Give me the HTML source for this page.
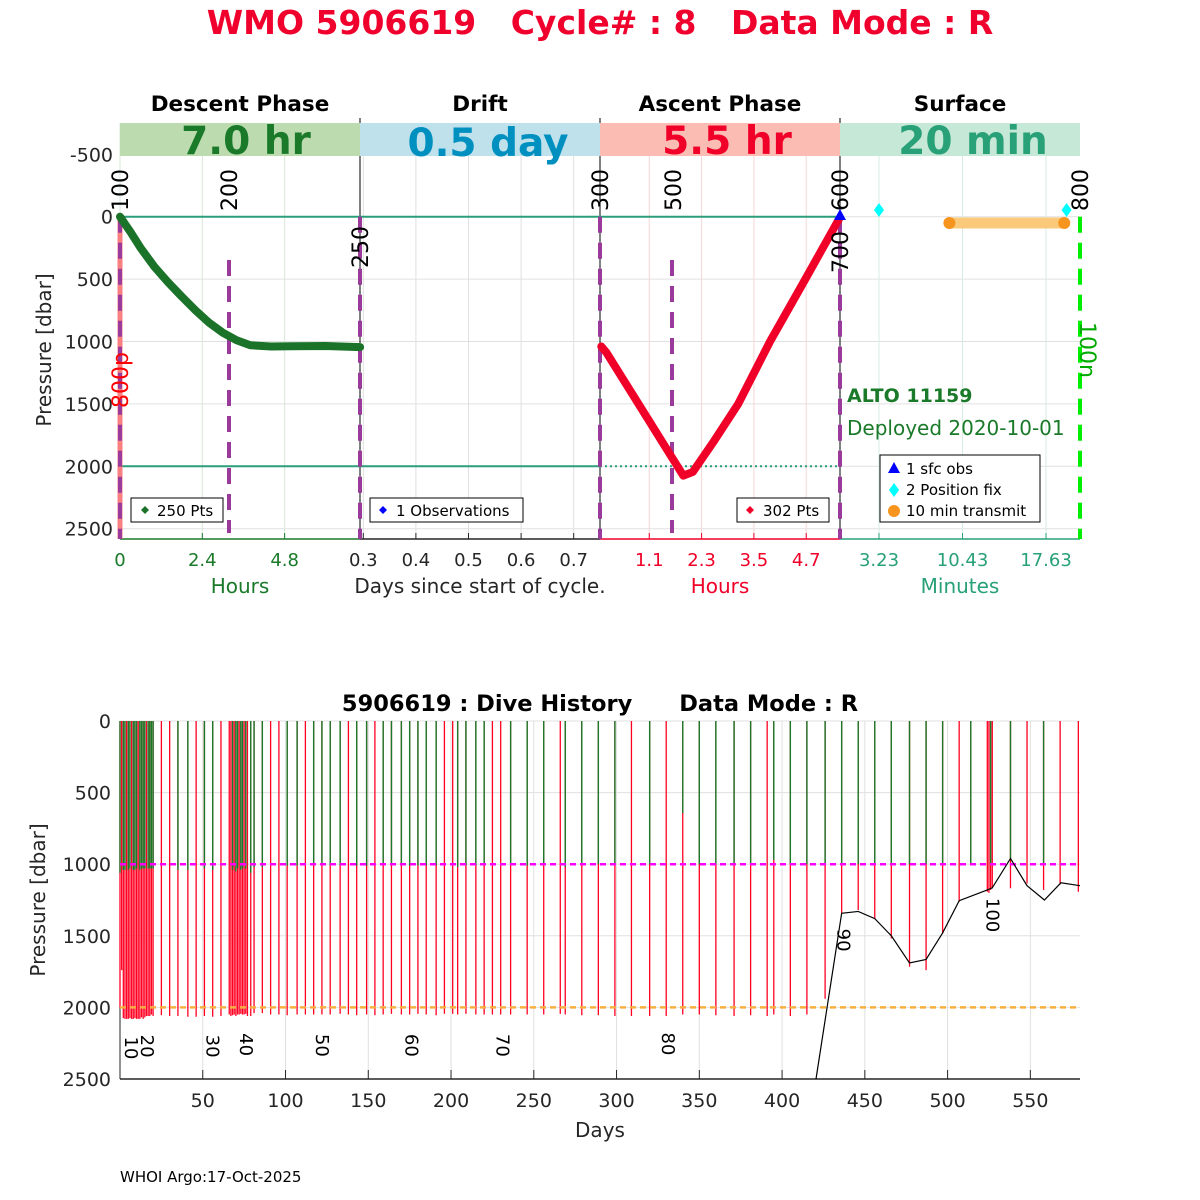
<!DOCTYPE html>
<html><head><meta charset="utf-8"><style>
html,body{margin:0;padding:0;background:#fff;}
svg{display:block;font-family:"DejaVu Sans","Liberation Sans",sans-serif;}
.pre{white-space:pre;}
</style></head><body>
<svg id="root" width="1200" height="1200" viewBox="0 0 1200 1200">
<text class="pre" x="600" y="34" text-anchor="middle" font-size="33" font-weight="bold" fill="#f0002d">WMO 5906619   Cycle# : 8   Data Mode : R</text>
<g font-size="21.5" font-weight="bold" fill="#000" text-anchor="middle">
<text x="240" y="111">Descent Phase</text>
<text x="480" y="111">Drift</text>
<text x="720" y="111">Ascent Phase</text>
<text x="960" y="111">Surface</text>
</g>
<g id="topChart"></g>
<g>
<rect x="120" y="123" width="240" height="33" fill="#bcdcb0"/>
<rect x="360" y="123" width="240" height="33" fill="#bfe1ec"/>
<rect x="600" y="123" width="240" height="33" fill="#fbbcb4"/>
<rect x="840" y="123" width="240" height="33" fill="#c6e8d6"/>
<g font-size="39" font-weight="bold" text-anchor="middle">
<text x="246" y="154" fill="#1a7a2a">7.0 hr</text>
<text x="488" y="156" fill="#0090c0">0.5 day</text>
<text x="727" y="154" fill="#f00028">5.5 hr</text>
<text x="973" y="154" fill="#28a078">20 min</text>
</g></g>
<g id="botChart"></g>
<text x="120" y="1182" font-size="15" fill="#000">WHOI Argo:17-Oct-2025</text>
</svg>
<script>
// ---------- TOP CHART DATA ----------
const descentHours = [0,0.3,0.6,1.0,1.4,1.8,2.2,2.6,3.0,3.4,3.8,4.4,5.0,6.0,7.0];
const descentPres  = [0,120,250,400,525,640,750,850,930,990,1030,1040,1038,1036,1045];
const ascentHours  = [0,0.12,1.88,2.1,2.6,3.14,3.87,4.68,5.45];
const ascentPres   = [1040,1090,2075,2045,1790,1500,1000,500,20];
const topYTicks = [-500,0,500,1000,1500,2000,2500];
const descentTicks = ['0','2.4','4.8'];
const driftTicks = ['0.3','0.4','0.5','0.6','0.7'];
const ascentTicks = ['1.1','2.3','3.5','4.7'];
const surfaceTicks = ['3.23','10.43','17.63'];
const fixMinutes = [3.23, 19.4];
const transmitMinutes = [9.3, 19.2];

// ---------- BOTTOM CHART DATA ----------
const diveDays = [0,1,2,3,4,5,6,7,8,9,10,11,12,13,14,15,16,17,18,19,20,
 25,30,35,41,46,51,56,61,
 66,67,68,69,70,71,72,73,74,75,76,77,
 79,81,86,91,96,101,107,112,117,122,127,133,138,143,149,154,159,164,170,175,
 180,185,191,196,201,204,209,215,220,225,230,236,246,256,266,269,279,289,299,309,
 320,330,340,350,360,371,381,391,395,405,415,426,436,446,456,466,477,487,497,507,
 514,524,525,526,527,538,548,558,568,579];
const diveTopGreen = [1,0,1,1,0,1,1,0,1,1,1,0,1,1,1,1,0,1,1,1,1,
 0,0,1,1,0,1,1,0,
 0,0,1,0,1,1,0,1,1,0,1,0,
 1,1,1,0,0,1,1,0,1,1,1,1,0,1,1,0,1,1,1,1,
 1,1,1,0,0,1,1,1,1,0,0,1,1,1,0,1,1,1,1,0,
 1,0,1,1,1,1,1,0,1,1,1,1,1,1,1,1,1,1,1,0,
 1,0,0,1,0,1,0,1,0,0];
const diveProfDepth = [2000,1740,2075,2080,2080,2080,2075,2080,2080,2075,2080,2080,2080,2070,2080,2070,2060,2060,2060,2050,2060,
 2055,2060,2060,2065,2065,2060,2065,2060,
 2050,2060,2055,2050,2060,2050,2050,2045,2050,2050,2045,2060,
 2060,2040,2040,2050,2050,2055,2050,2050,2050,2050,2050,2045,2050,2055,2050,2055,2050,2045,2050,2050,
 2045,2050,2055,2045,2045,2050,2045,2050,2050,2050,2050,2050,2050,2050,2045,2050,2055,2055,2060,2060,
 2060,2060,2050,2050,2055,2060,2055,2060,2050,2060,2050,1940,1343,1320,1380,1518,1716,1740,1483,1262,
 1000,1192,1200,1180,1170,1168,1134,1180,1140,1192];
const divePark = [1060,1035,1040,1040,1035,1040,1030,1035,1040,1040,1030,1035,1040,1030,1030,1030,1035,1030,1030,1030,1030,
 1030,1030,1040,1040,1030,1030,1040,1030,
 1040,1040,1040,1040,1050,1030,1040,1040,1030,1030,1030,1030,
 1060,1020,1020,1010,1010,1010,1010,1010,1010,1010,1010,1010,1010,1010,1010,1010,1010,1010,1010,1010,
 1010,1010,1010,1010,1010,1020,1010,1010,1010,1010,1010,1010,1010,1010,1010,1020,1000,1000,1000,1000,
 1000,780,643,1000,1000,1000,1000,1000,970,1000,1000,1000,1000,1000,1000,1000,1000,1000,1000,1000,
 1000,1000,1000,1000,1000,960,1000,1000,1000,1000];
const bathyDays  = [420.5,436,446,456,466,477,487,497,507,524,527,538,548,558.5,568.5,580];
const bathyDepth = [2500,1343,1330,1380,1500,1690,1665,1480,1255,1180,1165,960,1150,1250,1130,1150];
const cycleLabels = ['10','20','30','40','50','60','70','80','90','100'];
const cycleLabelDays = [6.6,16.3,56,76,122,176,231,331,437,527];
const cycleLabelDepth = [2283,2270,2270,2260,2265,2265,2265,2255,1530,1355];
const botXTicks = [50,100,150,200,250,300,350,400,450,500,550];
const botYTicks = [0,500,1000,1500,2000,2500];

const NS='http://www.w3.org/2000/svg';
function mk(parent, tag, attrs, txt){
  const e=document.createElementNS(NS,tag);
  for(const k in attrs) e.setAttribute(k,attrs[k]);
  if(txt!==undefined) e.textContent=txt;
  parent.appendChild(e); return e;
}
const topG=document.getElementById('topChart');
const botG=document.getElementById('botChart');
let el;

const yT = p => 216.7 + p*0.1248;
const xDesc = h => 120 + h*34.3;
const xAsc = h => 601.3 + h*43.6;
const xDrift = d => 363.3 + (d-0.3)*526;
const xSurf = m => 879 + (m-3.23)*11.6;
const PB = 539;

topYTicks.forEach((t)=>{
  el=mk(topG,'line',{x1:120,x2:1080,y1:yT(t),y2:yT(t),stroke:'#e0e0e0','stroke-width':1});
  
  
  el=mk(topG,'text',{x:113,y:yT(t)+7,'text-anchor':'end','font-size':19,fill:'#262626'},String(t));
  
  
});
function vtick(x,label,color,gridColor){
  el=mk(topG,'line',{x1:x,x2:x,y1:123,y2:PB,stroke:gridColor,'stroke-width':1});
  
  
  el=mk(topG,'line',{x1:x,x2:x,y1:PB-6,y2:PB,stroke:color,'stroke-width':1});
  
  
  el=mk(topG,'text',{x:x,y:566,'text-anchor':'middle','font-size':18,fill:color},label);
  
  
}
descentTicks.forEach(t=>vtick(xDesc(parseFloat(t)),t,'#1a7a2a','#d6e8d6'));
driftTicks.forEach(t=>vtick(xDrift(parseFloat(t)),t,'#262626','#e0e0e0'));
ascentTicks.forEach(t=>vtick(xAsc(parseFloat(t)),t,'#f00028','#f6d6d6'));
surfaceTicks.forEach(t=>vtick(xSurf(parseFloat(t)),t,'#28a078','#d6ece0'));
[[120,'#1a7a2a'],[360,'#262626'],[600,'#f00028'],[840,'#28a078']].forEach((a)=>{
  el=mk(topG,'line',{x1:a[0],x2:a[0]+240,y1:PB,y2:PB,stroke:a[1],'stroke-width':1.5});
  
  
});
[360,600,840].forEach(x=>{
  el=mk(topG,'line',{x1:x,x2:x,y1:118,y2:PB,stroke:'#000','stroke-width':1});
  
  
});
[['Hours',240,'#1a7a2a'],['Days since start of cycle.',480,'#262626'],['Hours',720,'#f00028'],['Minutes',960,'#28a078']].forEach(a=>{
  el=mk(topG,'text',{x:a[1],y:593,'text-anchor':'middle','font-size':20,fill:a[2]},a[0]);
  
  
});
el=mk(topG,'text',{x:0,y:0,transform:'translate(51,350) rotate(-90)','text-anchor':'middle','font-size':20,fill:'#262626'},'Pressure [dbar]');


el=mk(topG,'line',{x1:120,x2:840,y1:yT(0),y2:yT(0),stroke:'#2a9d7a','stroke-width':2});


el=mk(topG,'line',{x1:120,x2:600,y1:yT(2000),y2:yT(2000),stroke:'#2a9d7a','stroke-width':2});


el=mk(topG,'line',{x1:600,x2:840,y1:yT(2000),y2:yT(2000),stroke:'#2a9d7a','stroke-width':2,'stroke-dasharray':'2,3'});


el=mk(topG,'line',{x1:120,x2:120,y1:yT(0),y2:PB,stroke:'#f88080','stroke-width':5});


[[120,yT(0),PB],[229,260,533],[360,yT(0),PB],[600,yT(0),PB],[672,260,533],[840,yT(0),PB]].forEach(a=>{
  el=mk(topG,'line',{x1:a[0],x2:a[0],y1:a[1],y2:a[2],stroke:'#9a3a9a','stroke-width':4,'stroke-dasharray':'16,10'});
  
  
});
el=mk(topG,'line',{x1:1080,x2:1080,y1:yT(0),y2:PB,stroke:'#00ee00','stroke-width':4,'stroke-dasharray':'16,10'});


el=mk(topG,'polyline',{points:descentHours.map((h,i)=>xDesc(h)+','+yT(descentPres[i])).join(' '),fill:'none',stroke:'#1a7328','stroke-width':8,'stroke-linejoin':'round','stroke-linecap':'round'});


el=mk(topG,'polyline',{points:ascentHours.map((h,i)=>xAsc(h)+','+yT(ascentPres[i])).join(' '),fill:'none',stroke:'#f00028','stroke-width':8,'stroke-linejoin':'round','stroke-linecap':'round'});


el=mk(topG,'polygon',{points:'840,209 834,220 846,220',fill:'#0000ff'});


el=mk(topG,'line',{x1:xSurf(transmitMinutes[0]),x2:xSurf(transmitMinutes[1]),y1:223,y2:223,stroke:'#fbc97a','stroke-width':11});


transmitMinutes.forEach(m=>{
  el=mk(topG,'circle',{cx:xSurf(m),cy:223,r:6,fill:'#f7941d'});
  
  
});
fixMinutes.forEach(m=>{
  const x=xSurf(m);
  el=mk(topG,'polygon',{points:`${x},203 ${x+5},210 ${x},217 ${x-5},210`,fill:'#00ffff'});
  
  
});
[['100',120,190,-90,'#000'],['200',229,190,-90,'#000'],['250',360,247,-90,'#000'],['300',600,190,-90,'#000'],['500',673,190,-90,'#000'],['600',840,190,-90,'#000'],['700',840,252,-90,'#000'],['800',1080,190,-90,'#000'],['800p',120,380,-90,'#ff0000'],['100n',1088,350,90,'#00aa00']].forEach(a=>{
  el=mk(topG,'text',{x:0,y:0,transform:`translate(${a[1]+ (a[3]<0?8:-8)},${a[2]}) rotate(${a[3]})`,'text-anchor':'middle','font-size':22,fill:a[4]},a[0]);
  
  
});
el=mk(topG,'text',{x:847,y:402,'font-size':19,'font-weight':'bold',fill:'#1a7a2a'},'ALTO 11159');


el=mk(topG,'text',{x:847,y:435,'font-size':20,fill:'#1a7a2a'},'Deployed 2020-10-01');


function legendBox(x,y,w,h,name){
  el=mk(topG,'rect',{x:x,y:y,width:w,height:h,fill:'#fff',stroke:'#000','stroke-width':1});
  
  
}
legendBox(131,498,92,24,'descent-legend');
el=mk(topG,'polygon',{points:'145,506 149,510 145,514 141,510',fill:'#1a7328'});


el=mk(topG,'text',{x:157,y:516,'font-size':15,fill:'#000'},'250 Pts');


legendBox(370,498,153,24,'drift-legend');
el=mk(topG,'polygon',{points:'383,506 387,510 383,514 379,510',fill:'#0000ff'});


el=mk(topG,'text',{x:396,y:516,'font-size':15,fill:'#000'},'1 Observations');


legendBox(737,498,92,24,'ascent-legend');
el=mk(topG,'polygon',{points:'750,506 754,510 750,514 746,510',fill:'#f00028'});


el=mk(topG,'text',{x:763,y:516,'font-size':15,fill:'#000'},'302 Pts');


legendBox(880,455,160,67,'surface-legend');
el=mk(topG,'polygon',{points:'894,462 888,473 900,473',fill:'#0000ff'});


el=mk(topG,'polygon',{points:'894,483 899,490 894,497 889,490',fill:'#00ffff'});


el=mk(topG,'circle',{cx:894,cy:511,r:6,fill:'#f7941d'});


[['1 sfc obs',474],['2 Position fix',495],['10 min transmit',516]].forEach(a=>{
  el=mk(topG,'text',{x:906,y:a[1],'font-size':15,fill:'#000'},a[0]);
  
  
});

// ---------- BOTTOM CHART ----------
const xB = d => 120 + d*(960/580);
const yB = p => 721 + p*0.1432;
el=mk(botG,'text',{x:600,y:711,'text-anchor':'middle','font-size':22.5,'font-weight':'bold',fill:'#000',class:'pre'},'5906619 : Dive History      Data Mode : R');


botXTicks.forEach(t=>{
  el=mk(botG,'line',{x1:xB(t),x2:xB(t),y1:721,y2:1079,stroke:'#e0e0e0','stroke-width':1});
  
  
  el=mk(botG,'line',{x1:xB(t),x2:xB(t),y1:1070,y2:1079,stroke:'#262626','stroke-width':1});
  
  
  el=mk(botG,'text',{x:xB(t),y:1107,'text-anchor':'middle','font-size':19,fill:'#262626'},String(t));
  
  
});
botYTicks.forEach(t=>{
  el=mk(botG,'line',{x1:120,x2:1080,y1:yB(t),y2:yB(t),stroke:'#e0e0e0','stroke-width':1});
  
  
  el=mk(botG,'text',{x:111,y:yB(t)+7,'text-anchor':'end','font-size':19,fill:'#262626'},String(t));
  
  
});
el=mk(botG,'line',{x1:120,x2:120,y1:721,y2:1079,stroke:'#262626','stroke-width':1});


el=mk(botG,'line',{x1:120,x2:1080,y1:1079,y2:1079,stroke:'#262626','stroke-width':1.5});


el=mk(botG,'text',{x:600,y:1137,'text-anchor':'middle','font-size':20,fill:'#262626'},'Days');


el=mk(botG,'text',{x:0,y:0,transform:'translate(45,900) rotate(-90)','text-anchor':'middle','font-size':20,fill:'#262626'},'Pressure [dbar]');


diveDays.forEach((d,i)=>{
  el=mk(botG,'line',{x1:xB(d),x2:xB(d),y1:721,y2:yB(diveProfDepth[i]),stroke:'#ff0022','stroke-width':1.3});
  
  
});
diveDays.forEach((d,i)=>{
  if(diveTopGreen[i]){
    el=mk(botG,'line',{x1:xB(d),x2:xB(d),y1:721,y2:yB(divePark[i]),stroke:'#1a7a2a','stroke-width':1.4});
    
    
  }
});
el=mk(botG,'line',{x1:120,x2:1080,y1:yB(1000),y2:yB(1000),stroke:'#ff00ff','stroke-width':2.5,'stroke-dasharray':'6,4'});


el=mk(botG,'line',{x1:120,x2:1080,y1:yB(2000),y2:yB(2000),stroke:'#f7b040','stroke-width':2.5,'stroke-dasharray':'6,4'});


el=mk(botG,'polyline',{points:bathyDays.map((d,i)=>xB(d)+','+yB(bathyDepth[i])).join(' '),fill:'none',stroke:'#000','stroke-width':1.2});


cycleLabels.forEach((c,i)=>{
  el=mk(botG,'text',{x:0,y:0,transform:`translate(${xB(cycleLabelDays[i])-6},${yB(cycleLabelDepth[i])}) rotate(90)`,'text-anchor':'middle','font-size':18,fill:'#000'},c);
  
  
});
</script>
</body></html>
